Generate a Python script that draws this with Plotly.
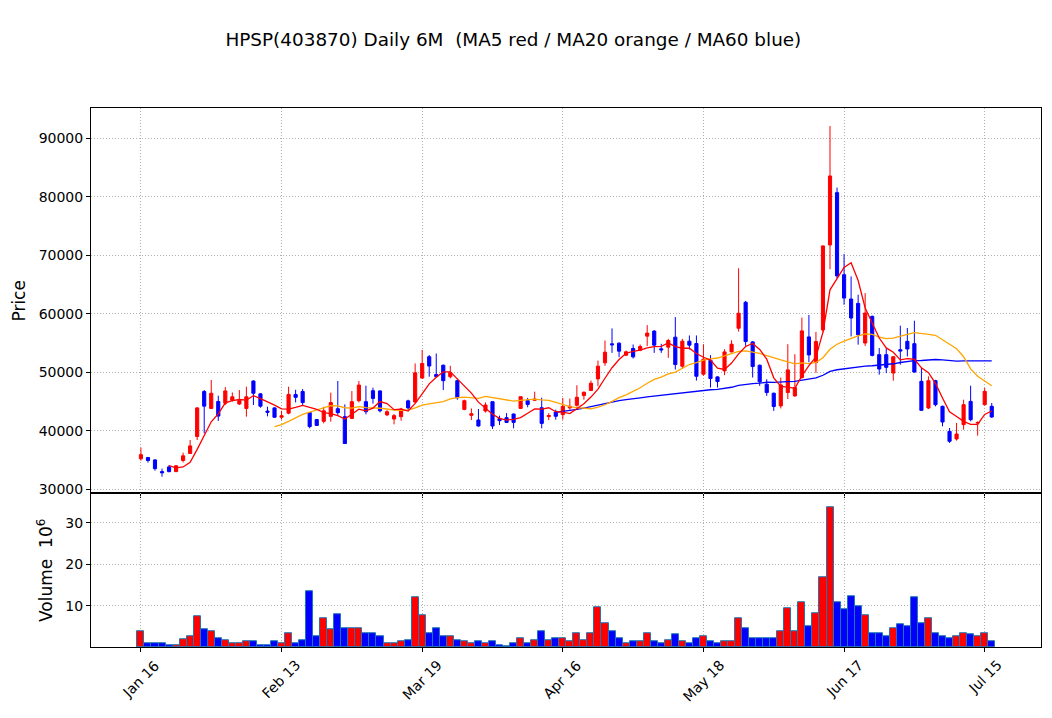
import pandas as pd
import plotly.graph_objects as go

# daily bars (prices in KRW, volume in millions)
opens = [35200, 35400, 35000, 33000, 33800, 33000, 34900, 36100, 39000, 46700,
         43800, 45000, 44700, 45200, 44560, 43800, 48500, 46300, 43350, 43900,
         42300, 43000, 46200, 46700, 43100, 41900, 41600, 42450, 43760, 42400,
         42100, 45130, 44960, 46840, 46800, 42700, 42000, 42400, 45100, 44900,
         49000, 52650, 49600, 51200, 49230, 48550, 43640, 42620, 41830, 43360,
         44960, 42100, 42220, 42850, 43810, 45130, 45200, 43930, 42400, 43200,
         42740, 43890, 44340, 46000, 46860, 48860, 51600, 54860, 54970, 52910,
         54060, 53770, 56170, 57030, 54000, 54290, 56000, 51030, 55310, 54910,
         49660, 52050, 49200, 50230, 53480, 57520, 61970, 55190, 51200, 47950,
         46410, 44240, 46520, 45950, 49090, 56040, 51650, 57240, 71770, 80720,
         66680, 62520, 61770, 54990, 59550, 53000, 53000, 49860, 53850, 55280,
         54880, 48440, 43880, 48550, 44160, 39890, 38580, 41030, 45010, 41300,
         44450, 44160]
highs = [37100, 35500, 35100, 33500, 34130, 34100, 36240, 38410, 44000, 46960,
         48670, 45990, 47470, 46550, 46960, 47520, 48600, 46400, 44100, 44000,
         43400, 47520, 47000, 47130, 43200, 42000, 44100, 46500, 48500, 44500,
         46790, 48500, 47700, 47350, 46900, 43500, 42850, 43900, 45300, 51500,
         53800, 52940, 53200, 51300, 51100, 48800, 45300, 43810, 43710, 44840,
         45000, 42570, 43000, 42900, 45900, 45600, 46670, 45640, 43000, 43600,
         45600, 45490, 47770, 46700, 48570, 52000, 55430, 57490, 55100, 53700,
         54740, 54740, 58060, 57200, 54860, 55710, 59430, 55710, 56290, 56290,
         54790, 52910, 49300, 53930, 55470, 67780, 62200, 55300, 51300, 48800,
         46500, 49090, 54790, 53080, 59350, 59800, 56900, 71700, 92120, 81580,
         70210, 66390, 63260, 63540, 59700, 54140, 54140, 52700, 57960, 57560,
         58810, 50720, 49290, 48700, 44300, 40460, 41310, 45300, 47690, 41600,
         47300, 44730]
lows = [34870, 34530, 33160, 32130, 32870, 32900, 34580, 36000, 38400, 39540,
        43700, 41660, 44380, 44960, 44400, 42390, 44390, 43930, 42450, 42200,
        41900, 42800, 44840, 44390, 40400, 40800, 41250, 41540, 42680, 37780,
        42000, 44840, 42790, 44620, 43130, 42500, 41080, 41700, 43500, 44800,
        48900, 49230, 49100, 46960, 48940, 45300, 43500, 41830, 40700, 43100,
        40290, 40970, 41300, 40400, 43700, 44000, 45100, 40400, 41800, 41890,
        41890, 43600, 44100, 45300, 46800, 47600, 51100, 53310, 52570, 52750,
        52340, 53600, 54460, 53310, 53310, 52460, 50460, 50600, 53890, 48570,
        49400, 47380, 47380, 49500, 53400, 56950, 54500, 49090, 47660, 45950,
        43390, 43800, 45400, 45800, 48900, 51700, 49900, 56780, 67610, 66000,
        61550, 56130, 54710, 54500, 52700, 49580, 49850, 48550, 51290, 52700,
        49900, 43400, 43700, 44160, 40740, 37900, 38300, 40170, 41600, 39150,
        44300, 42170]
closes = [35900, 34900, 33500, 32800, 33000, 34000, 35700, 37400, 43900, 44200,
          46400, 42500, 46800, 45800, 45180, 45800, 46400, 44200, 43150, 42300,
          42550, 46200, 45700, 44800, 40700, 40900, 43400, 44800, 43080, 37800,
          44960, 47800, 43250, 45520, 43400, 43250, 42570, 43700, 43900, 49900,
          51500, 51060, 49250, 48550, 49920, 45640, 45130, 42900, 40800, 44390,
          40800, 41710, 41420, 41420, 45810, 44500, 45400, 41250, 42600, 42460,
          44170, 44170, 45710, 46570, 48110, 51030, 53430, 54690, 53600, 53490,
          52630, 54400, 56690, 54630, 53830, 55430, 51310, 55310, 54630, 49310,
          52220, 48920, 48400, 53480, 54790, 60090, 55240, 50970, 48350, 46520,
          44130, 47830, 50400, 47380, 57070, 52960, 55240, 71600, 83570, 66470,
          62690, 59270, 56420, 60120, 52880, 50550, 50830, 52650, 53620, 53970,
          50030, 43480, 48550, 44450, 41480, 38180, 39430, 44450, 41880, 41400,
          46730, 42340]
volumes = [4.0, 0.9, 0.9, 0.9, 0.6, 0.6, 2.0, 2.8, 7.4, 4.3,
           4.0, 2.3, 1.8, 1.1, 1.1, 1.6, 1.6, 0.6, 0.6, 1.4,
           0.9, 3.4, 1.1, 1.8, 13.4, 2.8, 7.1, 4.3, 7.9, 4.5,
           4.7, 4.5, 3.3, 3.3, 2.6, 1.1, 0.9, 1.4, 1.8, 12.0,
           7.7, 3.5, 4.7, 2.8, 2.6, 1.8, 1.6, 0.9, 1.4, 1.0,
           1.4, 0.6, 0.3, 0.9, 2.1, 0.9, 1.8, 3.8, 1.8, 2.3,
           2.1, 1.6, 3.5, 1.8, 3.3, 9.6, 5.9, 4.0, 2.1, 1.1,
           1.4, 1.6, 3.5, 1.6, 0.9, 1.8, 3.1, 1.4, 1.1, 2.1,
           2.8, 1.4, 1.1, 1.4, 1.4, 7.1, 4.5, 2.3, 2.3, 2.3,
           2.3, 4.0, 9.3, 4.0, 10.8, 5.2, 8.1, 16.9, 33.7, 10.8,
           9.1, 12.4, 9.9, 7.7, 3.3, 3.5, 2.8, 4.7, 5.5, 5.0,
           12.0, 5.9, 7.1, 3.3, 2.6, 2.3, 2.8, 3.5, 3.1, 2.6,
           3.5, 1.4]

tick_idx = [0, 20, 40, 60, 80, 100, 120]
tick_labels = ["Jan 16", "Feb 13", "Mar 19", "Apr 16", "May 18", "Jun 17", "Jul 15"]
price_ticks = [30000, 40000, 50000, 60000, 70000, 80000, 90000]
vol_ticks = [10, 20, 30]

df = pd.DataFrame({"open": opens, "high": highs, "low": lows,
                   "close": closes, "volume": volumes})
df["ma5"] = df["close"].rolling(5).mean()
df["ma20"] = df["close"].rolling(20).mean()
df["ma60"] = df["close"].rolling(60).mean()
x = list(range(len(df)))
vol_colors = ["red" if c >= o else "blue" for o, c in zip(df["open"], df["close"])]

FONT = "DejaVu Sans"
GRID = dict(showgrid=True, gridcolor="#b0b0b0", griddash="1px,2px", gridwidth=1,
            showline=True, linecolor="black", linewidth=1, mirror=True,
            ticks="outside", ticklen=4, tickcolor="black", zeroline=False)

# panel edges (paper coords)
X_DOM = [0.0865, 0.9895]
PRICE_DOM = [0.3092, 0.8482]
VOL_DOM = [0.0933, 0.3092]

fig = go.Figure()
fig.add_trace(go.Candlestick(
    x=x, open=df["open"], high=df["high"], low=df["low"], close=df["close"],
    increasing=dict(line=dict(color="red", width=1), fillcolor="red"),
    decreasing=dict(line=dict(color="blue", width=1), fillcolor="blue"),
    whiskerwidth=0, xaxis="x", yaxis="y", showlegend=False))
fig.add_trace(go.Scatter(x=x, y=df["ma60"], mode="lines",
                         line=dict(color="blue", width=1.3), xaxis="x", yaxis="y"))
fig.add_trace(go.Scatter(x=x, y=df["ma20"], mode="lines",
                         line=dict(color="orange", width=1.3), xaxis="x", yaxis="y"))
fig.add_trace(go.Scatter(x=x, y=df["ma5"], mode="lines",
                         line=dict(color="red", width=1.3), xaxis="x", yaxis="y"))
fig.add_trace(go.Bar(x=x, y=df["volume"], width=1.0,
                     marker=dict(color=vol_colors, line=dict(color="#1f77b4", width=1)),
                     xaxis="x2", yaxis="y2"))

# date labels centred under the ticks, like matplotlib's rotated labels
for i, lab in zip(tick_idx, tick_labels):
    fig.add_annotation(x=i, xref="x2", y=VOL_DOM[0], yref="paper", yshift=-7,
                       text=lab, textangle=-45, showarrow=False,
                       xanchor="center", yanchor="top",
                       font=dict(family=FONT, size=14, color="black"))

fig.update_layout(
    width=1052, height=718,
    margin=dict(l=0, r=0, t=0, b=0),
    paper_bgcolor="white", plot_bgcolor="white",
    showlegend=False, bargap=0, boxgap=0.36,
    font=dict(family=FONT, size=14, color="black"),
    title=dict(text="HPSP(403870) Daily 6M  (MA5 red / MA20 orange / MA60 blue)",
               x=0.488, xanchor="center", y=0.945, yanchor="middle",
               font=dict(family=FONT, size=18.4, color="black")),
    xaxis=dict(domain=X_DOM, range=[-7.1, 128], tickvals=tick_idx,
               showticklabels=False, rangeslider=dict(visible=False),
               anchor="y", **GRID),
    yaxis=dict(domain=PRICE_DOM, range=[29300, 95130],
               tickvals=price_ticks, ticktext=[str(v) for v in price_ticks],
               title=dict(text="Price", standoff=8), anchor="x", **GRID),
    xaxis2=dict(domain=X_DOM, range=[-7.1, 128], tickvals=tick_idx,
                showticklabels=False, anchor="y2", **GRID),
    yaxis2=dict(domain=VOL_DOM, range=[0, 37.07],
                tickvals=vol_ticks, ticktext=[str(v) for v in vol_ticks],
                title=dict(text="Volume  10<sup>6</sup>", standoff=8), anchor="x2", **GRID),
)

fig.write_html("out.html", config={"displayModeBar": False},
               post_script="document.body.style.margin='0';")
